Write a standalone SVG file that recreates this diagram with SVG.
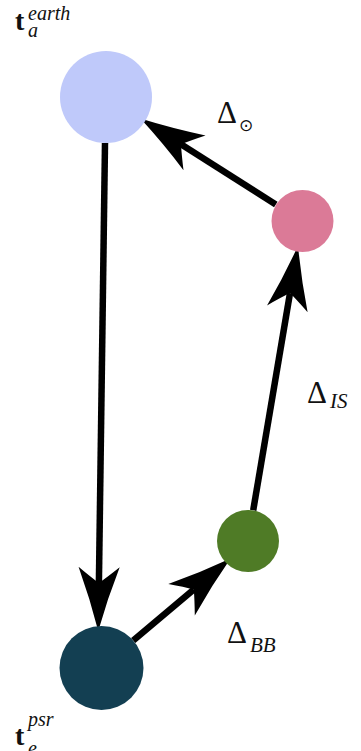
<svg xmlns="http://www.w3.org/2000/svg" width="361" height="751" viewBox="0 0 361 751">
<style>
.lbl{font-family:"Liberation Serif","DejaVu Serif",serif;fill:#111}
.it{font-style:italic}
.bd{font-weight:bold}
.edge{stroke:#000;stroke-width:6.5;fill:none}
</style>
<defs>
<marker id="ah" markerUnits="userSpaceOnUse" markerWidth="80" markerHeight="60" refX="0" refY="0" viewBox="-20 -25 70 50" orient="auto" overflow="visible">
<path d="M42,0 Q14,-7.5 -14,-18 Q-5,-7 0,0 Q-5,7 -14,18 Q14,7.5 42,0 Z" fill="#000"/>
</marker>
</defs>
<rect width="361" height="751" fill="#fff"/>
<g id="connectors">
<line class="edge" x1="105" y1="143" x2="98.9" y2="583" marker-end="url(#ah)"/>
<line class="edge" x1="133.2" y1="640.5" x2="193.8" y2="589.5" marker-end="url(#ah)"/>
<line class="edge" x1="253.2" y1="510.4" x2="290" y2="293.1" marker-end="url(#ah)"/>
<line class="edge" x1="275.8" y1="204.4" x2="181" y2="144.3" marker-end="url(#ah)"/>
</g>
<g id="earth">
<circle cx="106" cy="97" r="46" fill="#bfc9fa"/>
<text class="lbl bd" x="15" y="30" font-size="28">t</text>
<text class="lbl it" x="28" y="20" font-size="20">earth</text>
<text class="lbl it" x="28" y="37" font-size="20">a</text>
</g>
<g id="pulsar">
<circle cx="101.5" cy="668" r="42" fill="#133f52"/>
<text class="lbl bd" x="15" y="745" font-size="28">t</text>
<text class="lbl it" x="28" y="726" font-size="20">psr</text>
<text class="lbl it" x="28" y="755" font-size="20">e</text>
</g>
<g id="solar">
<circle cx="302.5" cy="221" r="31" fill="#db7a97"/>
<text class="lbl" x="217" y="123" font-size="31">Δ</text>
<text x="239" y="131" font-size="17" font-family="DejaVu Sans, sans-serif" fill="#111">⊙</text>
</g>
<g id="binary">
<circle cx="248" cy="541" r="31" fill="#4f7b26"/>
<text class="lbl" x="227" y="643" font-size="31">Δ</text>
<text class="lbl it" x="250" y="652" font-size="21">BB</text>
</g>
<g id="is">
<text class="lbl" x="307" y="403" font-size="31">Δ</text>
<text class="lbl it" x="330" y="408" font-size="21">IS</text>
</g>
</svg>
